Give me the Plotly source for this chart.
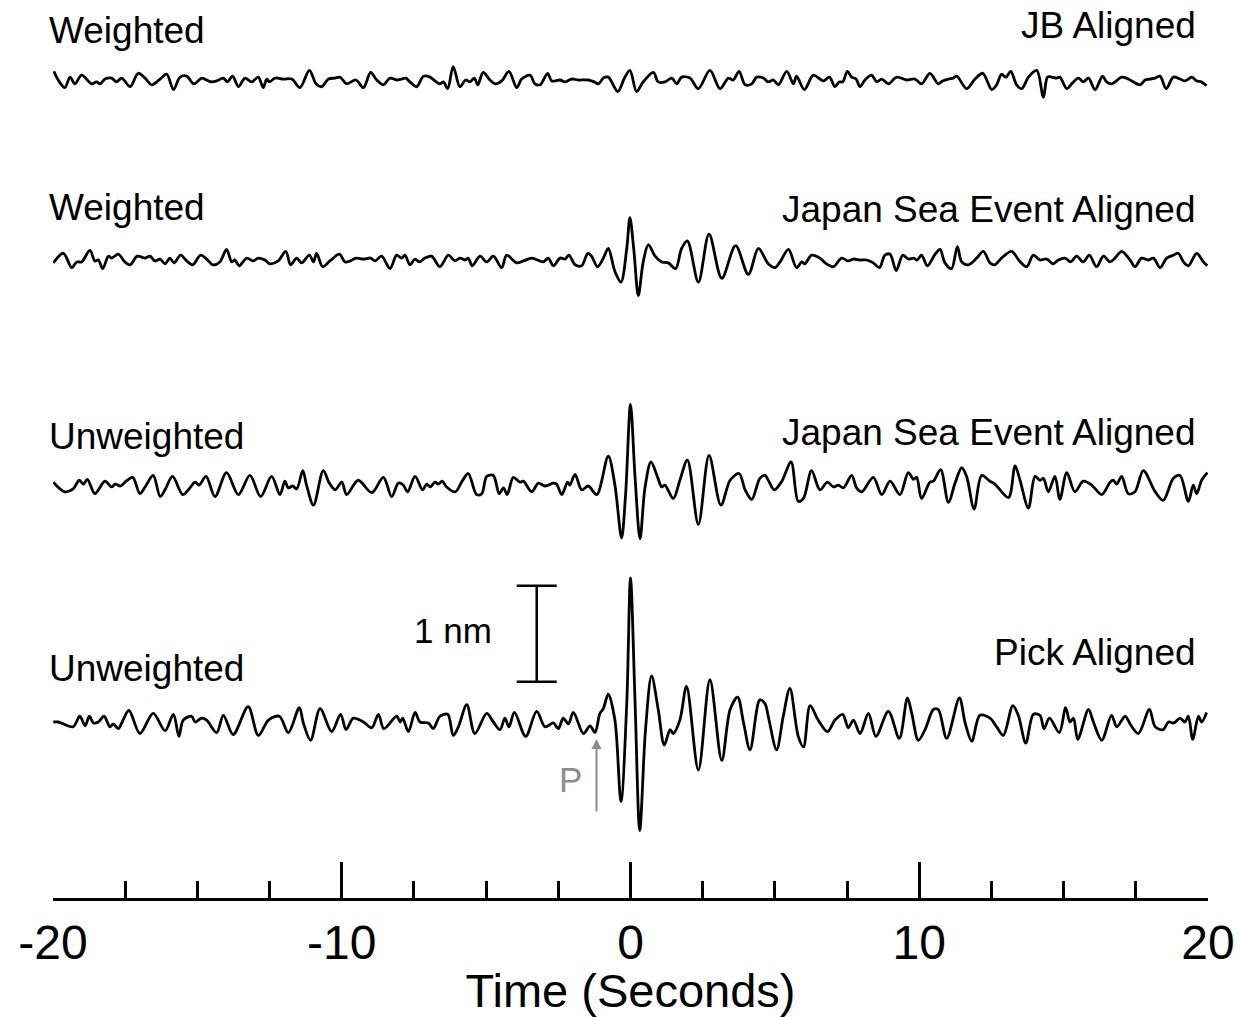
import plotly.graph_objects as go

# ---------------- data (time in s, amplitude in nm) ----------------
jb_weighted_t = [-19.97, -19.82, -19.59, -19.41, -19.24, -19.01, -18.66, -18.49, -18.37, -18.20,
                 -17.97, -17.80, -17.62, -17.33, -17.05, -16.81, -16.58, -16.29, -16.06, -15.83,
                 -15.60, -15.37, -15.12, -14.85, -14.68, -14.51, -14.33, -14.10, -13.96, -13.78,
                 -13.58, -13.35, -13.12, -12.89, -12.72, -12.60, -12.51, -12.31, -12.02, -11.73,
                 -11.45, -11.12, -10.89, -10.70, -10.46, -10.23, -10.06, -9.83, -9.51, -9.25,
                 -9.00, -8.79, -8.56, -8.33, -8.10, -7.93, -7.78, -7.64, -7.41, -7.17, -6.94,
                 -6.77, -6.60, -6.48, -6.33, -6.14, -5.91, -5.71, -5.56, -5.41, -5.29,
                 -5.10, -4.87, -4.69, -4.46, -4.21, -3.94, -3.77, -3.48, -3.31, -3.13,
                 -2.87, -2.73, -2.44, -2.27, -2.04, -1.81, -1.46, -1.25, -1.11, -0.94,
                 -0.77, -0.44, -0.21, -0.02, 0.21, 0.44, 0.79, 0.96, 1.19, 1.43,
                 1.60, 1.77, 2.06, 2.35, 2.75, 3.10, 3.39, 3.56, 3.76, 3.97,
                 4.20, 4.37, 4.60, 4.77, 4.95, 5.12, 5.41, 5.64, 5.75, 6.02, 6.33,
                 6.56, 6.68, 6.89, 7.08, 7.23, 7.35, 7.51, 7.66, 7.81, 7.95,
                 8.12, 8.35, 8.53, 8.70, 8.93, 9.22, 9.56, 9.85, 10.08, 10.37,
                 10.66, 10.81, 11.01, 11.18, 11.30, 11.64, 11.93, 12.20, 12.51, 12.68,
                 12.85, 13.00, 13.17, 13.37, 13.55, 13.78, 14.07, 14.30, 14.44, 14.59,
                 14.76, 14.87, 15.11, 15.28, 15.51, 15.68, 15.86, 16.09, 16.35, 16.49,
                 16.66, 16.78, 17.01, 17.24, 17.65, 17.82, 17.99, 18.17, 18.34, 18.55,
                 18.80, 19.03, 19.20, 19.44, 19.61, 19.78, 19.95]
jb_weighted_a = [0.09, 0.00, -0.08, 0.03, -0.04, 0.05, -0.04, -0.02, -0.04, 0.01,
                 0.02, -0.02, 0.02, -0.07, 0.07, 0.02, -0.05, 0.01, 0.06, -0.10,
                 0.03, 0.04, -0.04, 0.02, 0.00, -0.02, -0.01, 0.02, -0.02, 0.04,
                 -0.07, 0.02, -0.02, 0.03, -0.08, 0.01, -0.02, 0.02, 0.01, 0.01,
                 -0.08, 0.10, -0.04, -0.07, 0.01, 0.02, 0.03, -0.04, 0.00, -0.08,
                 0.08, 0.00, -0.05, 0.02, 0.00, 0.01, 0.02, -0.02, -0.07, 0.04, 0.03,
                 -0.01, -0.04, -0.02, -0.09, 0.14, -0.07, 0.00, -0.02, 0.02, -0.05,
                 0.08, 0.00, -0.04, -0.01, 0.09, -0.08, 0.01, 0.05, -0.04, -0.05,
                 0.07, -0.01, 0.00, -0.02, 0.01, 0.00, 0.00, -0.02, -0.04, 0.02,
                 0.03, -0.12, 0.02, 0.10, -0.12, -0.02, 0.08, -0.02, -0.02, 0.02,
                 -0.04, 0.03, 0.02, -0.09, 0.10, -0.09, 0.02, 0.00, 0.09, -0.05,
                 -0.04, 0.03, 0.02, -0.02, 0.00, -0.05, 0.09, -0.04, 0.04, -0.10, 0.05,
                 0.01, -0.01, 0.03, -0.07, -0.02, -0.02, 0.09, 0.03, 0.01, -0.07,
                 0.00, 0.05, -0.02, 0.01, -0.04, 0.03, 0.00, 0.01, -0.04, 0.07,
                 -0.04, -0.01, 0.01, 0.02, 0.04, -0.09, 0.01, 0.07, -0.10, -0.05,
                 0.06, 0.03, 0.09, -0.05, -0.09, 0.03, 0.10, -0.18, 0.03, 0.03,
                 0.02, 0.03, -0.09, -0.04, 0.02, -0.02, 0.02, -0.10, 0.04, -0.02,
                 -0.04, -0.02, 0.03, 0.01, -0.05, 0.00, 0.01, 0.02, 0.04, -0.09,
                 0.03, 0.01, -0.01, 0.03, -0.01, -0.02, -0.06]

jse_weighted_t = [-19.99, -19.64, -19.35, -19.18, -19.01, -18.72, -18.55, -18.43, -18.28, -18.08,
                  -17.97, -17.74, -17.51, -17.33, -17.08, -16.81, -16.64, -16.47, -16.29, -16.12,
                  -15.95, -15.81, -15.58, -15.37, -15.16, -14.89, -14.68, -14.47, -14.22, -13.99,
                  -13.81, -13.70, -13.55, -13.29, -13.06, -12.89, -12.66, -12.49, -12.20, -11.94,
                  -11.77, -11.56, -11.39, -11.12, -10.98, -10.87, -10.66, -10.41, -10.08, -9.89,
                  -9.71, -9.51, -9.25, -9.00, -8.85, -8.62, -8.33, -8.10, -7.93, -7.81,
                  -7.64, -7.46, -7.31, -7.12, -6.89,
                  -6.60, -6.31, -6.08, -5.91, -5.73, -5.62, -5.48, -5.21, -4.98, -4.75,
                  -4.46, -4.29, -3.94, -3.71, -3.42, -3.02, -2.85, -2.67, -2.44, -2.27,
                  -2.13, -1.92, -1.69, -1.48, -1.35, -1.14, -0.94, -0.77, -0.54, -0.33,
                  -0.13, -0.02, 0.12, 0.27, 0.44, 0.62, 0.85, 1.08, 1.31, 1.56,
                  1.77, 1.97, 2.35, 2.72, 3.16, 3.64, 4.08, 4.43, 4.77, 5.00,
                  5.18, 5.47, 5.75, 5.93, 6.04, 6.27,
                  6.56, 6.74, 7.03, 7.31, 7.54, 7.72, 7.95, 8.18, 8.41, 8.62,
                  8.81, 8.99, 9.20, 9.43, 9.62, 9.80, 9.93, 10.08, 10.28, 10.55,
                  10.72, 10.89, 11.12, 11.32, 11.47, 11.70, 11.99, 12.22, 12.45, 12.62,
                  12.85, 13.20, 13.47, 13.72, 13.95, 14.18, 14.41, 14.64, 14.82, 15.05,
                  15.24, 15.45, 15.68, 15.89, 16.14, 16.38, 16.61, 16.78, 17.01, 17.30,
                  17.47, 17.70, 17.93, 18.11, 18.34, 18.57, 18.80, 18.97, 19.15, 19.32,
                  19.61, 19.84, 19.98]
jse_weighted_a = [-0.03, 0.07, -0.08, -0.02, -0.02, 0.10, -0.01, 0.00, -0.09, 0.04,
                  0.02, 0.06, -0.02, -0.05, 0.04, 0.02, 0.04, -0.01, 0.01, -0.04,
                  0.02, -0.03, 0.05, -0.01, -0.05, 0.05, 0.01, -0.05, -0.02, 0.11,
                  -0.02, 0.00, -0.06, 0.02, -0.01, 0.02, 0.00, -0.04, -0.01, 0.09,
                  -0.05, 0.02, -0.03, 0.05, -0.02, 0.07, -0.07, -0.01, 0.06, -0.02,
                  -0.01, 0.02, 0.01, 0.02, -0.01, 0.04, -0.09, 0.05, 0.02, 0.05,
                  -0.05, 0.01, -0.02, 0.02, 0.04,
                  -0.07, 0.05, -0.01, 0.02, 0.00, 0.02, -0.06, 0.04, -0.02, 0.04,
                  -0.08, 0.05, -0.03, -0.01, 0.02, -0.02, 0.02, -0.06, 0.02, 0.01,
                  0.05, -0.05, -0.06, 0.07, 0.04, -0.07, 0.02, 0.12, -0.12, -0.23,
                  0.12, 0.44, 0.09, -0.37, -0.02, 0.16, 0.04, -0.02, -0.03, -0.09,
                  0.12, 0.20, -0.23, 0.27, -0.19, 0.15, -0.15, 0.12, -0.04, -0.08,
                  -0.02, 0.11, -0.08, -0.02, -0.04, 0.05,
                  0.02, -0.03, -0.07, 0.02, -0.01, 0.01, 0.00, 0.00, -0.03, -0.08,
                  0.05, 0.06, -0.11, 0.05, 0.01, 0.02, 0.00, 0.05, -0.06, 0.06,
                  0.11, -0.03, -0.09, 0.14, -0.02, -0.05, 0.02, 0.09, -0.03, -0.05,
                  0.02, 0.09, -0.01, -0.07, 0.05, 0.00, 0.01, -0.04, 0.00, 0.02,
                  -0.02, 0.04, -0.02, 0.05, -0.07, 0.04, -0.02, 0.02, 0.09, 0.00,
                  -0.07, 0.02, 0.00, 0.02, -0.08, 0.02, 0.05, 0.07, -0.02, -0.06,
                  0.07, -0.02, -0.06]

jse_unweighted_t = [-19.99, -19.59, -19.30, -19.09, -18.95, -18.81, -18.55, -18.20, -17.97, -17.85,
                    -17.66, -17.47, -17.24, -16.99, -16.81, -16.53, -16.29, -16.12, -15.86, -15.51,
                    -15.31, -15.08, -14.94, -14.70, -14.39, -13.99, -13.58, -13.18, -12.81, -12.43,
                    -12.14, -11.97, -11.85, -11.70, -11.56, -11.35, -11.22, -10.98, -10.64, -10.43,
                    -10.23, -10.00, -9.83, -9.43, -8.96, -8.56, -8.27, -8.04, -7.87, -7.72,
                    -7.46, -7.20, -7.06, -6.94,
                    -6.77, -6.66, -6.52, -6.37, -6.06, -5.85, -5.62, -5.33, -5.15, -4.98,
                    -4.75, -4.55, -4.40, -4.27, -4.06, -3.83, -3.71, -3.42, -3.19, -2.96,
                    -2.67, -2.56, -2.38, -2.18, -2.10, -1.92, -1.69, -1.46, -1.17, -0.77,
                    -0.54, -0.31, -0.17, 0.00, 0.16, 0.33, 0.50, 0.71, 0.94, 1.08,
                    1.19, 1.48, 1.71, 1.97, 2.35, 2.72, 3.13, 3.45, 3.76, 3.97,
                    4.20, 4.48, 4.66, 4.77, 4.98, 5.24, 5.56, 5.81, 5.99, 6.27,
                    6.56, 6.82, 7.03, 7.20, 7.37, 7.66, 7.83, 8.01, 8.41, 8.70,
                    8.99, 9.33, 9.62, 9.80, 9.91, 10.08, 10.37, 10.49, 10.74, 11.01,
                    11.24, 11.47, 11.64, 11.90, 12.16, 12.45, 12.62, 13.09, 13.32, 13.49,
                    13.78, 14.01, 14.18, 14.30, 14.47, 14.70, 14.87, 15.11, 15.39, 15.68,
                    15.97, 16.32, 16.61, 16.72, 16.84, 17.01, 17.24, 17.47, 17.76, 18.17,
                    18.45, 18.80, 19.03, 19.32, 19.49, 19.61, 19.78, 19.98]
jse_unweighted_a = [0.04, -0.06, -0.03, 0.06, 0.02, 0.07, -0.08, 0.05, -0.01, 0.02,
                    0.00, 0.05, 0.09, -0.08, -0.01, 0.11, -0.11, -0.04, 0.10, -0.09,
                    -0.04, 0.04, 0.01, 0.10, -0.11, 0.14, -0.09, 0.11, -0.11, 0.10,
                    -0.09, 0.05, -0.02, 0.00, -0.03, 0.16, 0.01, -0.20, 0.16, 0.03,
                    -0.04, 0.04, -0.09, 0.06, -0.07, 0.09, -0.11, 0.03, 0.01, -0.06,
                    0.10, -0.04, 0.02, -0.01,
                    0.04, 0.02, 0.05, -0.01, -0.06, 0.04, 0.13, -0.09, -0.08, 0.10,
                    0.11, -0.08, -0.02, -0.09, 0.09, 0.04, 0.05, -0.06, 0.03, 0.00,
                    0.03, 0.02, -0.09, 0.04, 0.01, 0.12, -0.04, 0.00, -0.09, 0.31,
                    0.01, -0.54, -0.09, 0.85, 0.08, -0.55, -0.02, 0.25, 0.09, -0.01,
                    0.01, -0.13, 0.06, 0.27, -0.40, 0.32, -0.20, 0.06, 0.13, -0.04,
                    -0.14, 0.08, 0.11, 0.06, -0.04, 0.05, 0.25, -0.16, -0.13, 0.16,
                    -0.04, 0.04, -0.01, 0.01, -0.02, 0.11, -0.02, -0.06, 0.09, -0.09,
                    0.05, -0.09, 0.14, 0.07, 0.09, -0.13, 0.04, 0.05, 0.17, -0.17,
                    0.03, 0.19, 0.10, -0.24, 0.11, 0.05, 0.02, -0.12, 0.21, 0.06,
                    -0.23, 0.10, 0.06, 0.08, -0.06, 0.10, -0.14, 0.14, -0.06, 0.05,
                    0.01, -0.09, 0.04, 0.06, 0.02, 0.10, -0.08, -0.06, 0.16, -0.06,
                    -0.15, 0.08, 0.11, -0.16, 0.01, -0.08, 0.06, 0.14]

pick_unweighted_t = [-19.99, -19.82, -19.64, -19.30, -19.07, -18.89, -18.74, -18.60, -18.43, -18.23,
                     -18.03, -17.91, -17.74, -17.62, -17.37, -16.99, -16.53, -16.12, -15.83, -15.64,
                     -15.49, -15.20, -15.08, -14.85, -14.68, -14.33, -14.10, -13.76, -13.24, -12.89,
                     -12.54, -12.16, -11.85, -11.47, -11.33, -11.08, -10.75, -10.35, -10.04, -9.85,
                     -9.60, -9.25, -8.96, -8.73, -8.54, -8.10, -7.98, -7.89, -7.69, -7.46,
                     -7.29, -7.00, -6.83,
                     -6.60, -6.33, -6.14, -5.96, -5.67, -5.39, -4.98, -4.75, -4.52, -4.35,
                     -4.21, -4.02, -3.63, -3.25, -2.96, -2.67, -2.50, -2.33, -2.15, -1.98,
                     -1.63, -1.40, -1.23, -1.06, -0.94, -0.77, -0.54, -0.33, -0.13, 0.00,
                     0.16, 0.32, 0.52, 0.73, 0.96, 1.17, 1.37, 1.48, 1.71, 1.94,
                     2.35, 2.75, 3.16, 3.45, 3.71, 3.91, 4.14, 4.48, 4.66, 4.77,
                     5.06, 5.29, 5.52, 5.81, 5.99, 6.22, 6.50,
                     6.82, 7.08, 7.35, 7.54, 7.72, 7.95, 8.24, 8.50, 8.93, 9.31,
                     9.59, 9.74, 9.97, 10.20, 10.49, 10.66, 10.95, 11.39, 11.59, 11.82,
                     12.10, 12.45, 12.68, 12.91, 13.24, 13.43, 13.69, 13.95, 14.18, 14.32,
                     14.51, 14.85, 15.07, 15.22, 15.34, 15.49, 15.86, 16.03, 16.32, 16.66,
                     16.84, 17.13, 17.32, 17.59, 17.97, 18.17, 18.45, 18.63, 18.82, 19.03,
                     19.20, 19.32, 19.47, 19.67, 19.78, 19.95]
pick_unweighted_a = [0.00, 0.00, -0.02, -0.05, 0.06, -0.04, 0.06, -0.01, 0.00, 0.06,
                     -0.05, -0.02, -0.07, -0.01, 0.12, -0.12, 0.09, -0.09, 0.08, -0.15,
                     0.02, 0.06, 0.00, 0.04, 0.02, -0.11, 0.07, -0.13, 0.16, -0.14,
                     0.02, 0.06, -0.11, 0.15, -0.01, -0.19, 0.14, -0.10, 0.08, -0.08,
                     0.04, 0.00, -0.06, 0.08, -0.07, 0.06, 0.00, 0.04, -0.10, 0.10,
                     0.00, -0.01, -0.07,
                     0.06, 0.08, -0.14, -0.05, 0.18, -0.12, 0.09, 0.00, -0.08, 0.04,
                     -0.05, 0.10, -0.15, 0.11, -0.05, -0.01, -0.07, 0.04, -0.02, 0.10,
                     -0.12, -0.04, -0.11, 0.09, 0.14, 0.29, 0.02, -0.83, 0.19, 1.50,
                     0.19, -1.13, -0.08, 0.48, 0.13, -0.24, -0.08, -0.12, 0.02, 0.37,
                     -0.50, 0.44, -0.40, 0.13, 0.26, 0.00, -0.29, 0.23, 0.19, 0.06,
                     -0.29, 0.06, 0.35, -0.15, -0.26, 0.17, 0.02,
                     -0.10, 0.02, 0.08, -0.06, 0.02, -0.12, 0.09, -0.15, 0.11, -0.17,
                     0.25, 0.09, -0.19, -0.08, 0.13, 0.13, -0.17, 0.25, -0.01, -0.20,
                     0.07, 0.04, -0.05, -0.14, 0.17, 0.07, -0.22, 0.08, 0.07, -0.07,
                     0.04, -0.11, 0.15, 0.00, 0.04, -0.18, 0.13, 0.00, -0.19, 0.07,
                     -0.05, 0.06, -0.03, -0.12, 0.13, -0.05, -0.08, 0.00, -0.01, 0.04,
                     0.00, 0.06, -0.18, 0.06, 0.00, 0.10]

left_labels = ["Weighted", "Weighted", "Unweighted", "Unweighted"]
right_labels = ["JB Aligned", "Japan Sea Event Aligned", "Japan Sea Event Aligned", "Pick Aligned"]
tick_values = [-20, -10, 0, 10, 20]
tick_labels = ["-20", "-10", "0", "10", "20"]
minor_tick_values = [-17.5, -15, -12.5, -7.5, -5, -2.5, 2.5, 5, 7.5, 12.5, 15, 17.5]
scale_bar_nm = 1.0

# ---------------- layout helpers ----------------
W, H = 1243, 1017
M_L, M_R, M_T, M_B = 53, 35, 10, 119
PLOT_W = W - M_L - M_R
PX_PER_NM = 96.0
Y_MIN = -(898 - 722) / PX_PER_NM          # trace-4 baseline at 0
Y_MAX = Y_MIN + (H - M_T - M_B) / PX_PER_NM


def ypx(p):
    """pixel row -> y data value"""
    return (898 - p) / PX_PER_NM + Y_MIN


def xpx(p):
    return (p - 53) / 28.875 - 20


def xpaper(p):
    return (p - M_L) / PLOT_W


offsets = [ypx(80), ypx(260), ypx(486), 0.0]
series = [(jb_weighted_t, jb_weighted_a), (jse_weighted_t, jse_weighted_a),
          (jse_unweighted_t, jse_unweighted_a), (pick_unweighted_t, pick_unweighted_a)]

FONT = "Liberation Sans, Arial, Helvetica, sans-serif"
fig = go.Figure()
for (tt, aa), off in zip(series, offsets):
    assert len(tt) == len(aa), (len(tt), len(aa))
    fig.add_trace(go.Scatter(x=tt, y=[a + off for a in aa], mode="lines",
                             line=dict(color="black", width=2.8, shape="spline", smoothing=0.9),
                             hoverinfo="skip", showlegend=False))

ann = []
left_y = [30, 207.5, 436, 668.5]
right_y = [25, 209, 432.5, 652]
for lab, yp in zip(left_labels, left_y):
    ann.append(dict(x=xpaper(47), y=ypx(yp), xref="paper", yref="y", text=lab, showarrow=False,
                    xanchor="left", yanchor="middle", font=dict(family=FONT, size=37, color="black")))
for lab, yp in zip(right_labels, right_y):
    ann.append(dict(x=xpaper(1198), y=ypx(yp), xref="paper", yref="y", text=lab, showarrow=False,
                    xanchor="right", yanchor="middle", font=dict(family=FONT, size=37, color="black")))
# scale bar label
ann.append(dict(x=xpx(494), y=ypx(630), xref="x", yref="y", text="1 nm", showarrow=False,
                xanchor="right", yanchor="middle", font=dict(family=FONT, size=35, color="black")))
# P pick arrow
ann.append(dict(x=xpx(596.5), y=ypx(739), ax=xpx(596.5), ay=ypx(813), xref="x", yref="y",
                axref="x", ayref="y", text="", showarrow=True, arrowhead=2, arrowsize=1,
                arrowwidth=2, arrowcolor="#8c8c8c"))
ann.append(dict(x=xpx(570), y=ypx(779.5), xref="x", yref="y", text="P", showarrow=False,
                xanchor="center", yanchor="middle", font=dict(family=FONT, size=35, color="#8c8c8c")))

# scale bar (1 nm)
bar_x = xpx(536.7)
bar_y0 = ypx(681.7)
bar_y1 = bar_y0 + scale_bar_nm
half = (556.7 - 516.7) / 2 / 28.875
shapes = [
    dict(type="line", xref="x", yref="y", x0=bar_x, x1=bar_x, y0=bar_y0, y1=bar_y1,
         line=dict(color="black", width=2.5)),
    dict(type="line", xref="x", yref="y", x0=bar_x - half, x1=bar_x + half, y0=bar_y0, y1=bar_y0,
         line=dict(color="black", width=2.5)),
    dict(type="line", xref="x", yref="y", x0=bar_x - half, x1=bar_x + half, y0=bar_y1, y1=bar_y1,
         line=dict(color="black", width=2.5)),
]

fig.update_layout(
    width=W, height=H,
    margin=dict(l=M_L, r=M_R, t=M_T, b=M_B, autoexpand=False),
    paper_bgcolor="white", plot_bgcolor="white",
    annotations=ann, shapes=shapes,
    xaxis=dict(range=[-20, 20], showgrid=False, zeroline=False, automargin=False,
               showline=True, linecolor="black", linewidth=3,
               ticks="inside", ticklen=36, tickwidth=3, tickcolor="black",
               tickmode="array", tickvals=tick_values, ticktext=tick_labels,
               tickfont=dict(family=FONT, size=48, color="black"),
               minor=dict(ticks="inside", ticklen=17, tickwidth=3, tickcolor="black",
                          tickmode="array", tickvals=minor_tick_values, showgrid=False),
               title=dict(text="Time (Seconds)", font=dict(family=FONT, size=47, color="black"),
                          standoff=8),
               fixedrange=True),
    yaxis=dict(range=[Y_MIN, Y_MAX], visible=False, fixedrange=True, automargin=False),
)

fig.write_html("out.html", config={"displayModeBar": False, "staticPlot": True},
               post_script="document.body.style.margin='0';document.body.style.overflow='hidden';")
